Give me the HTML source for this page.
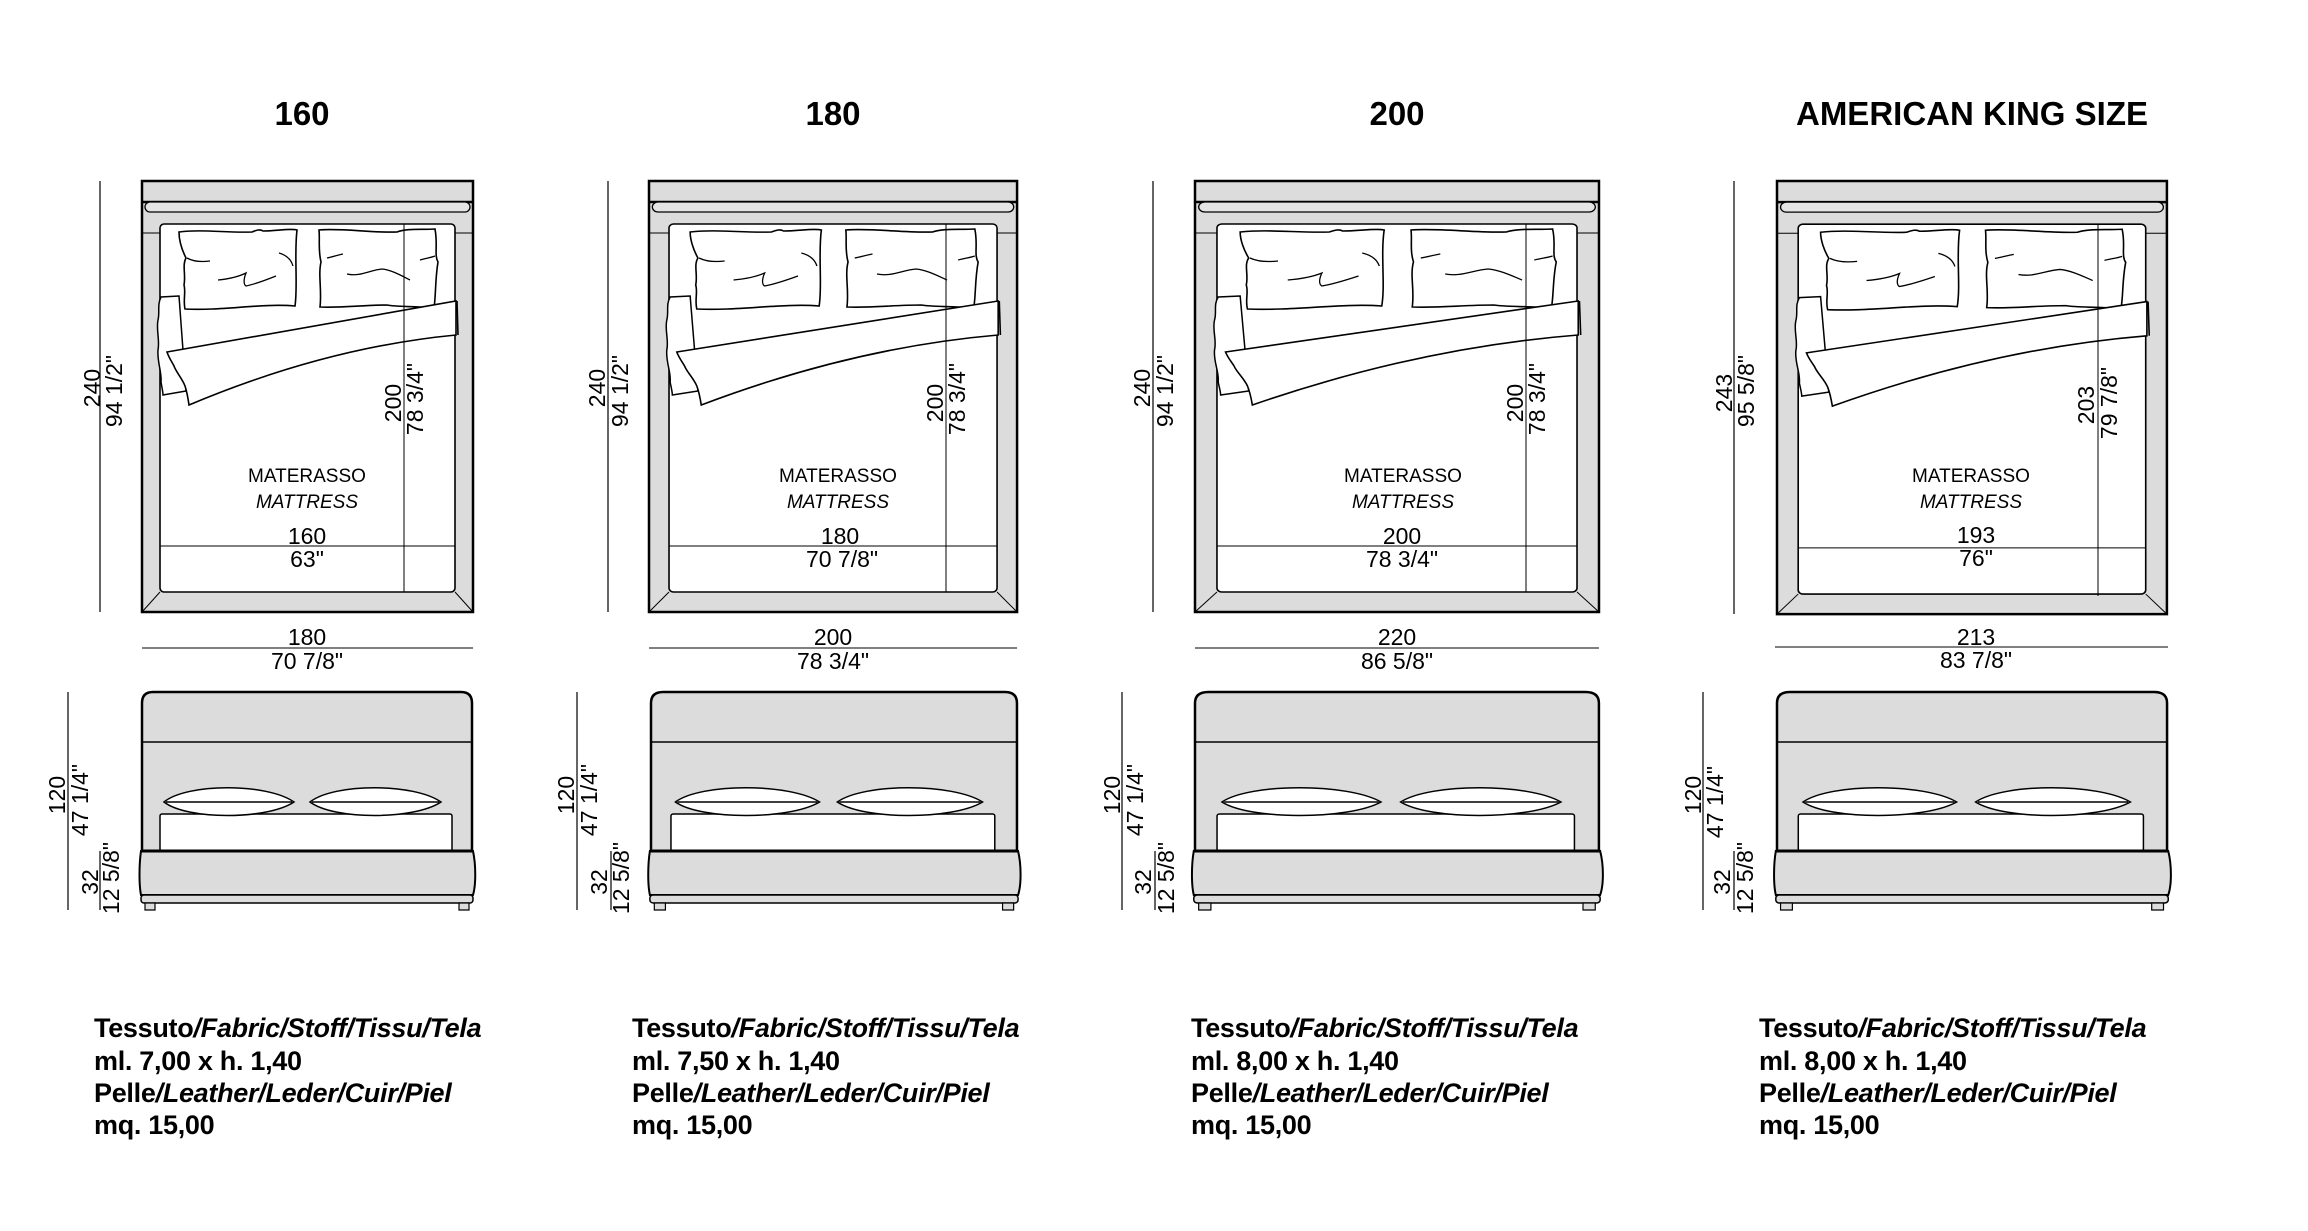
<!DOCTYPE html>
<html><head><meta charset="utf-8"><style>
html,body{margin:0;padding:0;background:#fff;}
svg{display:block;}
text{font-family:"Liberation Sans",Arial,sans-serif;fill:#000;}
.d{font-size:23px;}
.m{font-size:19px;}
.t{font-size:33px;font-weight:bold;}
.b{font-size:27px;font-weight:bold;letter-spacing:-0.3px;}
.s{stroke:#000;vector-effect:non-scaling-stroke;}
</style></head><body>
<svg width="2308" height="1231" viewBox="0 0 2308 1231" xmlns="http://www.w3.org/2000/svg">
<defs>
<g id="top">
  <rect x="0" y="181" width="331" height="431" fill="#dcdcdc" stroke="#000" stroke-width="2.5" vector-effect="non-scaling-stroke"/>
  <line class="s" x1="0" y1="202" x2="331" y2="202" stroke-width="2.5"/>
  <rect x="3" y="202" width="325" height="10" rx="5" fill="#e4e4e4" stroke="#000" stroke-width="1.3" vector-effect="non-scaling-stroke"/>
  <line class="s" x1="0" y1="233" x2="18" y2="233" stroke-width="1"/>
  <line class="s" x1="313" y1="233" x2="331" y2="233" stroke-width="1"/>
  <rect x="18" y="224" width="295" height="368" rx="4" fill="#fff" stroke="#000" stroke-width="1.6" vector-effect="non-scaling-stroke"/>
  <line class="s" x1="0" y1="612" x2="18" y2="592" stroke-width="1"/>
  <line class="s" x1="331" y1="612" x2="313" y2="592" stroke-width="1"/>
  <line class="s" x1="18" y1="546" x2="313" y2="546" stroke-width="1"/>
  <path class="s" stroke-width="1.6" fill="#fff" d="M37,232 C60,229 85,233 110,232 C115,230 118,229 121,231 C135,231 148,228 155,230 C152,255 156,285 153,306 C120,303 80,311 43,309 C41,300 44,292 42,285 C44,275 40,265 44,258 C40,250 37,240 37,232 Z"/>
  <path class="s" stroke-width="1.3" fill="none" d="M45,258 C52,262 60,262 68,261 M76,280 C86,279 96,277 104,273 C102,278 101,284 104,286 C114,284 124,280 134,276 M137,253 C144,255 149,259 151,266"/>
  <path class="s" stroke-width="1.6" fill="#fff" d="M177,230 C200,228 230,233 255,232 C265,228 280,230 293,229 C296,245 292,255 296,262 C293,280 294,295 292,308 C270,306 255,307 245,305 C220,305 200,308 178,307 C180,290 176,275 179,262 C176,250 178,240 177,230 Z"/>
  <path class="s" stroke-width="1.3" fill="none" d="M185,258 C190,257 196,255 201,254 M205,274 C218,277 228,270 240,269 C250,270 260,276 268,280 M278,260 C284,258 288,258 293,256"/>
  <path class="s" stroke-width="1.5" fill="#fff" d="M37,296 L19,297 C15,305 18,312 16,320 C14,330 18,340 16,350 C15,362 20,372 19,382 C20,388 21,392 21,395 L44,391 Z"/>
  <path class="s" stroke-width="1.6" fill="#fff" d="M25,352 L314,301 L314,335 C220,344 130,370 47,405 C46,398 45,392 43,386 C40,378 34,372 32,366 C30,362 27,358 25,352 Z"/>
  <path class="s" stroke-width="1.6" fill="none" d="M315,301 L316,335"/>
</g>
<g id="front">
  <path class="s" stroke-width="2.5" fill="#dcdcdc" d="M0,851 L0,703 Q0,692 11,692 L319,692 Q330,692 330,703 L330,851"/>
  <line class="s" x1="0" y1="742" x2="330" y2="742" stroke-width="1.6"/>
  <rect x="18" y="814" width="292" height="37" rx="2" fill="#fff" stroke="#000" stroke-width="1.5" vector-effect="non-scaling-stroke"/>
  <path class="s" stroke-width="1.5" fill="#fff" d="M22,802 C45,783 125,783 152,802 C125,820 45,820 22,802 Z M24,802 L150,802"/>
  <path class="s" stroke-width="1.5" fill="#fff" d="M168,802 C192,783 272,783 299,802 C272,820 192,820 168,802 Z M170,802 L297,802"/>
  <path class="s" stroke-width="2" fill="#dcdcdc" d="M-1,851 L331,851 C334,865 334,885 331,895 L-1,895 C-3,885 -3,865 -1,851 Z"/>
  <line class="s" x1="-1" y1="851" x2="331" y2="851" stroke-width="3"/>
  <rect x="-1" y="895" width="332" height="8" rx="3" fill="#dcdcdc" stroke="#000" stroke-width="1.5" vector-effect="non-scaling-stroke"/>
  <rect x="3" y="903" width="10" height="7" fill="#dcdcdc" stroke="#000" stroke-width="1.2" vector-effect="non-scaling-stroke"/>
  <rect x="317" y="903" width="10" height="7" fill="#dcdcdc" stroke="#000" stroke-width="1.2" vector-effect="non-scaling-stroke"/>
</g>
</defs>

<text class="t" x="302" y="125" text-anchor="middle">160</text>
<text class="t" x="833" y="125" text-anchor="middle">180</text>
<text class="t" x="1397" y="125" text-anchor="middle">200</text>
<text class="t" x="1972" y="125" text-anchor="middle">AMERICAN KING SIZE</text>

<use href="#top" transform="translate(142,0)"/>
<line x1="100" y1="181" x2="100" y2="612" stroke="#000" stroke-width="1.2"/>
<text class="d" transform="translate(92,388) rotate(-90)" text-anchor="middle" dominant-baseline="central">240</text>
<text class="d" transform="translate(114,391) rotate(-90)" text-anchor="middle" dominant-baseline="central">94 1/2"</text>
<line x1="404" y1="224" x2="404" y2="592" stroke="#000" stroke-width="1"/>
<text class="d" transform="translate(393,403) rotate(-90)" text-anchor="middle" dominant-baseline="central">200</text>
<text class="d" transform="translate(415,399) rotate(-90)" text-anchor="middle" dominant-baseline="central">78 3/4"</text>
<text class="m" x="307" y="482" text-anchor="middle">MATERASSO</text>
<text class="m" x="307" y="508" text-anchor="middle" font-style="italic">MATTRESS</text>
<text class="d" x="307" y="544" text-anchor="middle">160</text>
<text class="d" x="307" y="567" text-anchor="middle">63"</text>
<line x1="142" y1="648" x2="473" y2="648" stroke="#000" stroke-width="1"/>
<text class="d" x="307" y="645" text-anchor="middle">180</text>
<text class="d" x="307" y="669" text-anchor="middle">70 7/8"</text>
<use href="#front" transform="translate(142,0)"/>
<line x1="68" y1="692" x2="68" y2="910" stroke="#000" stroke-width="1.2"/>
<text class="d" transform="translate(57,795) rotate(-90)" text-anchor="middle" dominant-baseline="central">120</text>
<text class="d" transform="translate(80,800) rotate(-90)" text-anchor="middle" dominant-baseline="central">47 1/4"</text>
<line x1="100" y1="851" x2="100" y2="910" stroke="#000" stroke-width="1.2"/>
<text class="d" transform="translate(90,882) rotate(-90)" text-anchor="middle" dominant-baseline="central">32</text>
<text class="d" transform="translate(111,878) rotate(-90)" text-anchor="middle" dominant-baseline="central">12 5/8"</text>
<text class="b" x="94" y="1037">Tessuto<tspan font-style="italic">/Fabric/Stoff/Tissu/Tela</tspan></text>
<text class="b" x="94" y="1070">ml. 7,00 x h. 1,40</text>
<text class="b" x="94" y="1102">Pelle<tspan font-style="italic">/Leather/Leder/Cuir/Piel</tspan></text>
<text class="b" x="94" y="1134">mq. 15,00</text>

<use href="#top" transform="translate(649,0) scale(1.112,1)"/>
<line x1="608" y1="181" x2="608" y2="612" stroke="#000" stroke-width="1.2"/>
<text class="d" transform="translate(597,388) rotate(-90)" text-anchor="middle" dominant-baseline="central">240</text>
<text class="d" transform="translate(620,391) rotate(-90)" text-anchor="middle" dominant-baseline="central">94 1/2"</text>
<line x1="946" y1="224" x2="946" y2="592" stroke="#000" stroke-width="1"/>
<text class="d" transform="translate(935,403) rotate(-90)" text-anchor="middle" dominant-baseline="central">200</text>
<text class="d" transform="translate(957,399) rotate(-90)" text-anchor="middle" dominant-baseline="central">78 3/4"</text>
<text class="m" x="838" y="482" text-anchor="middle">MATERASSO</text>
<text class="m" x="838" y="508" text-anchor="middle" font-style="italic">MATTRESS</text>
<text class="d" x="840" y="544" text-anchor="middle">180</text>
<text class="d" x="842" y="567" text-anchor="middle">70 7/8"</text>
<line x1="649" y1="648" x2="1017" y2="648" stroke="#000" stroke-width="1"/>
<text class="d" x="833" y="645" text-anchor="middle">200</text>
<text class="d" x="833" y="669" text-anchor="middle">78 3/4"</text>
<use href="#front" transform="translate(651,0) scale(1.109,1)"/>
<line x1="577" y1="692" x2="577" y2="910" stroke="#000" stroke-width="1.2"/>
<text class="d" transform="translate(566,795) rotate(-90)" text-anchor="middle" dominant-baseline="central">120</text>
<text class="d" transform="translate(589,800) rotate(-90)" text-anchor="middle" dominant-baseline="central">47 1/4"</text>
<line x1="611" y1="851" x2="611" y2="910" stroke="#000" stroke-width="1.2"/>
<text class="d" transform="translate(599,882) rotate(-90)" text-anchor="middle" dominant-baseline="central">32</text>
<text class="d" transform="translate(621,878) rotate(-90)" text-anchor="middle" dominant-baseline="central">12 5/8"</text>
<text class="b" x="632" y="1037">Tessuto<tspan font-style="italic">/Fabric/Stoff/Tissu/Tela</tspan></text>
<text class="b" x="632" y="1070">ml. 7,50 x h. 1,40</text>
<text class="b" x="632" y="1102">Pelle<tspan font-style="italic">/Leather/Leder/Cuir/Piel</tspan></text>
<text class="b" x="632" y="1134">mq. 15,00</text>

<use href="#top" transform="translate(1195,0) scale(1.2205,1)"/>
<line x1="1153" y1="181" x2="1153" y2="612" stroke="#000" stroke-width="1.2"/>
<text class="d" transform="translate(1142,388) rotate(-90)" text-anchor="middle" dominant-baseline="central">240</text>
<text class="d" transform="translate(1165,391) rotate(-90)" text-anchor="middle" dominant-baseline="central">94 1/2"</text>
<line x1="1526" y1="224" x2="1526" y2="592" stroke="#000" stroke-width="1"/>
<text class="d" transform="translate(1515,403) rotate(-90)" text-anchor="middle" dominant-baseline="central">200</text>
<text class="d" transform="translate(1537,399) rotate(-90)" text-anchor="middle" dominant-baseline="central">78 3/4"</text>
<text class="m" x="1403" y="482" text-anchor="middle">MATERASSO</text>
<text class="m" x="1403" y="508" text-anchor="middle" font-style="italic">MATTRESS</text>
<text class="d" x="1402" y="544" text-anchor="middle">200</text>
<text class="d" x="1402" y="567" text-anchor="middle">78 3/4"</text>
<line x1="1195" y1="648" x2="1599" y2="648" stroke="#000" stroke-width="1"/>
<text class="d" x="1397" y="645" text-anchor="middle">220</text>
<text class="d" x="1397" y="669" text-anchor="middle">86 5/8"</text>
<use href="#front" transform="translate(1195,0) scale(1.224,1)"/>
<line x1="1122" y1="692" x2="1122" y2="910" stroke="#000" stroke-width="1.2"/>
<text class="d" transform="translate(1112,795) rotate(-90)" text-anchor="middle" dominant-baseline="central">120</text>
<text class="d" transform="translate(1135,800) rotate(-90)" text-anchor="middle" dominant-baseline="central">47 1/4"</text>
<line x1="1155" y1="851" x2="1155" y2="910" stroke="#000" stroke-width="1.2"/>
<text class="d" transform="translate(1143,882) rotate(-90)" text-anchor="middle" dominant-baseline="central">32</text>
<text class="d" transform="translate(1166,878) rotate(-90)" text-anchor="middle" dominant-baseline="central">12 5/8"</text>
<text class="b" x="1191" y="1037">Tessuto<tspan font-style="italic">/Fabric/Stoff/Tissu/Tela</tspan></text>
<text class="b" x="1191" y="1070">ml. 8,00 x h. 1,40</text>
<text class="b" x="1191" y="1102">Pelle<tspan font-style="italic">/Leather/Leder/Cuir/Piel</tspan></text>
<text class="b" x="1191" y="1134">mq. 15,00</text>

<use href="#top" transform="translate(1777,-0.9) scale(1.178,1.005)"/>
<line x1="1734" y1="181" x2="1734" y2="614" stroke="#000" stroke-width="1.2"/>
<text class="d" transform="translate(1724,393) rotate(-90)" text-anchor="middle" dominant-baseline="central">243</text>
<text class="d" transform="translate(1746,391) rotate(-90)" text-anchor="middle" dominant-baseline="central">95 5/8"</text>
<line x1="2098" y1="225" x2="2098" y2="596" stroke="#000" stroke-width="1"/>
<text class="d" transform="translate(2086,405) rotate(-90)" text-anchor="middle" dominant-baseline="central">203</text>
<text class="d" transform="translate(2109,403) rotate(-90)" text-anchor="middle" dominant-baseline="central">79 7/8"</text>
<text class="m" x="1971" y="482" text-anchor="middle">MATERASSO</text>
<text class="m" x="1971" y="508" text-anchor="middle" font-style="italic">MATTRESS</text>
<text class="d" x="1976" y="543" text-anchor="middle">193</text>
<text class="d" x="1976" y="566" text-anchor="middle">76"</text>
<line x1="1775" y1="647" x2="2168" y2="647" stroke="#000" stroke-width="1"/>
<text class="d" x="1976" y="645" text-anchor="middle">213</text>
<text class="d" x="1976" y="668" text-anchor="middle">83 7/8"</text>
<use href="#front" transform="translate(1777,0) scale(1.182,1)"/>
<line x1="1703" y1="692" x2="1703" y2="910" stroke="#000" stroke-width="1.2"/>
<text class="d" transform="translate(1693,795) rotate(-90)" text-anchor="middle" dominant-baseline="central">120</text>
<text class="d" transform="translate(1715,802) rotate(-90)" text-anchor="middle" dominant-baseline="central">47 1/4"</text>
<line x1="1734" y1="851" x2="1734" y2="910" stroke="#000" stroke-width="1.2"/>
<text class="d" transform="translate(1722,882) rotate(-90)" text-anchor="middle" dominant-baseline="central">32</text>
<text class="d" transform="translate(1745,878) rotate(-90)" text-anchor="middle" dominant-baseline="central">12 5/8"</text>
<text class="b" x="1759" y="1037">Tessuto<tspan font-style="italic">/Fabric/Stoff/Tissu/Tela</tspan></text>
<text class="b" x="1759" y="1070">ml. 8,00 x h. 1,40</text>
<text class="b" x="1759" y="1102">Pelle<tspan font-style="italic">/Leather/Leder/Cuir/Piel</tspan></text>
<text class="b" x="1759" y="1134">mq. 15,00</text>
</svg>
</body></html>
